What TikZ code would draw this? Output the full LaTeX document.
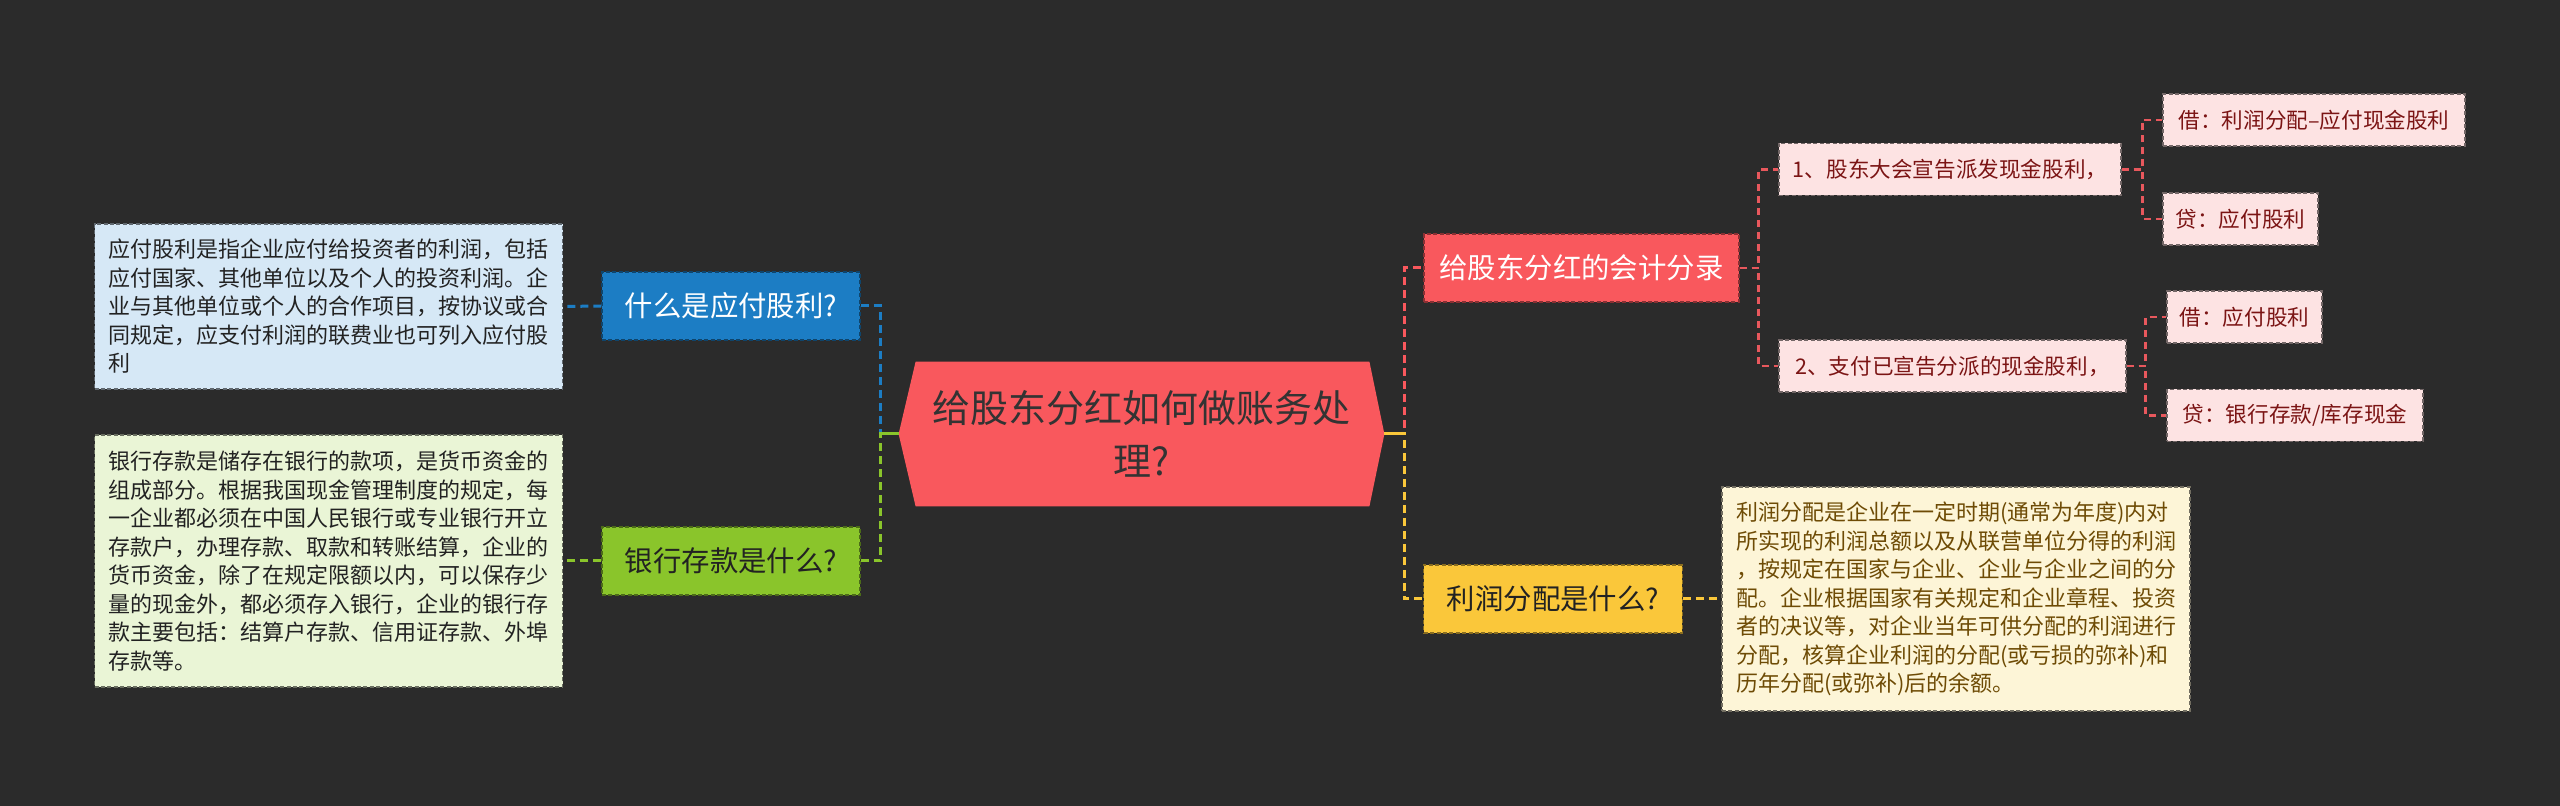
\documentclass[tikz,border=0pt]{standalone}
\usepackage{fontspec}
\setmainfont{Noto Sans CJK SC}
\usetikzlibrary{backgrounds}
\definecolor{bgc}{HTML}{2B2B2B}
\definecolor{rootc}{HTML}{F9585D}
\definecolor{roottext}{HTML}{333333}
\definecolor{bluec}{HTML}{1C7DC4}
\definecolor{greenc}{HTML}{8AC52B}
\definecolor{yellowc}{HTML}{FAC73A}
\definecolor{redc}{HTML}{F9585D}
\definecolor{linkred}{HTML}{E8585D}
\definecolor{pinkc}{HTML}{FDE3E3}
\definecolor{dblue}{HTML}{D6E8F6}
\definecolor{dgreen}{HTML}{EAF5D6}
\definecolor{dyellow}{HTML}{FDF5D7}
\definecolor{leaftext}{HTML}{7B1414}
\definecolor{ytext}{HTML}{6E4B05}
\definecolor{darktext}{HTML}{222222}
\tikzset{
  x=0.5pt, y=-0.5pt,
  nodebase/.style={rectangle, inner sep=0pt, line width=0.6pt, dash pattern=on 2pt off 1.2pt},
  rootbox/.style={rectangle, inner sep=0pt, text=roottext, align=center,
    font=\fontsize{19pt}{26.5pt}\selectfont, minimum width=242.5pt, minimum height=72pt},
  branch/.style={nodebase, font=\fontsize{14.2pt}{18pt}\selectfont, minimum height=34pt},
  bluebox/.style={branch, fill=bluec, draw=bluec!55!black, text=white},
  greenbox/.style={branch, fill=greenc, draw=greenc!55!black, text=darktext},
  redbox/.style={branch, fill=redc, draw=redc!55!black, text=white},
  yellowbox/.style={branch, fill=yellowc, draw=yellowc!55!black, text=darktext},
  desc/.style={nodebase, align=left, font=\fontsize{11pt}{14.25pt}\selectfont, minimum width=234pt},
  descblue/.style={desc, fill=dblue, draw=dblue!45!black, text=darktext},
  descgreen/.style={desc, fill=dgreen, draw=dgreen!45!black, text=darktext},
  descyellow/.style={desc, fill=dyellow, draw=dyellow!45!black, text=ytext},
  leaf/.style={nodebase, fill=pinkc, draw=pinkc!45!black, text=leaftext,
    font=\fontsize{10.8pt}{14pt}\selectfont, minimum height=26pt},
  conn/.style={line width=1.5pt, dash pattern=on 4pt off 2.5pt},
  subconn/.style={line width=1.2pt, dash pattern=on 3.5pt off 2.5pt, linkred},
}
\begin{document}
\begin{tikzpicture}
\begin{scope}[on background layer]
  \fill[bgc] (0,0) rectangle (2560,806);
\end{scope}
\useasboundingbox (0,0) rectangle (2560,806);

% nodes
\node[rootbox] (root) at (1141.5,434) {给股东分红如何做账务处\\理?};
\begin{scope}[on background layer]
  \fill[rootc] (root.west) -- ([xshift=8.5pt]root.north west) -- ([xshift=-7.5pt]root.north east)
    -- (root.east) -- ([xshift=-7.5pt]root.south east) -- ([xshift=8.5pt]root.south west) -- cycle;
\end{scope}

\node[bluebox, minimum width=129pt] (q1) at (731,306) {什么是应付股利?};
\node[greenbox, minimum width=129pt] (q2) at (731,561) {银行存款是什么?};
\node[redbox, minimum width=157.5pt] (q3) at (1581.5,268) {给股东分红的会计分录};
\node[yellowbox, minimum width=129.25pt] (q4) at (1553,599) {利润分配是什么?};

\node[descblue, minimum height=82.5pt] (d1) at (328.5,306.5)
 {应付股利是指企业应付给投资者的利润，包括\\
  应付国家、其他单位以及个人的投资利润。企\\
  业与其他单位或个人的合作项目，按协议或合\\
  同规定，应支付利润的联费业也可列入应付股\\
  利};
\node[descgreen, minimum height=126pt] (d2) at (328.5,561)
 {银行存款是储存在银行的款项，是货币资金的\\
  组成部分。根据我国现金管理制度的规定，每\\
  一企业都必须在中国人民银行或专业银行开立\\
  存款户，办理存款、取款和转账结算，企业的\\
  货币资金，除了在规定限额以内，可以保存少\\
  量的现金外，都必须存入银行，企业的银行存\\
  款主要包括：结算户存款、信用证存款、外埠\\
  存款等。};
\node[descyellow, minimum height=112pt] (d3) at (1956,599)
 {利润分配是企业在一定时期(通常为年度)内对\\
  所实现的利润总额以及从联营单位分得的利润\\
  ，按规定在国家与企业、企业与企业之间的分\\
  配。企业根据国家有关规定和企业章程、投资\\
  者的决议等，对企业当年可供分配的利润进行\\
  分配，核算企业利润的分配(或亏损的弥补)和\\
  历年分配(或弥补)后的余额。};

\node[leaf, minimum width=171pt] (a1) at (1950,169.5) {1、股东大会宣告派发现金股利，};
\node[leaf, minimum width=173.5pt] (a2) at (1952.5,366) {2、支付已宣告分派的现金股利，};
\node[leaf, minimum width=151pt] (b1) at (2314,120) {借：利润分配–应付现金股利};
\node[leaf, minimum width=77.5pt] (b2) at (2240.5,219) {贷：应付股利};
\node[leaf, minimum width=77.5pt] (c1) at (2244.5,317) {借：应付股利};
\node[leaf, minimum width=128pt] (c2) at (2295,415.5) {贷：银行存款/库存现金};

% connectors
\draw[conn, bluec] (q1.east) -- ++(20,0) |- (root.west);
\draw[conn, greenc] (q2.east) -- ++(20,0) |- (root.west);
\draw[line width=1.5pt, greenc] (root.west) -- ++(-19,0);
\draw[conn, redc] (root.east) -- ++(20,0) |- (q3.west);
\draw[conn, yellowc] (root.east) -- ++(20,0) |- (q4.west);
\draw[line width=1.5pt, yellowc] (root.east) -- ++(20,0);
\draw[conn, bluec] (q1.west) -- (d1.east);
\draw[conn, greenc] (q2.west) -- (d2.east);
\draw[conn, yellowc] (q4.east) -- (d3.west);

\draw[subconn] (q3.east) -- ++(19,0) |- (a1.west);
\draw[subconn] (q3.east) -- ++(19,0) |- (a2.west);
\draw[subconn] (a1.east) -- ++(21,0) |- (b1.west);
\draw[subconn] (a1.east) -- ++(21,0) |- (b2.west);
\draw[subconn] (a2.east) -- ++(19,0) |- (c1.west);
\draw[subconn] (a2.east) -- ++(19,0) |- (c2.west);
\end{tikzpicture}
\end{document}
